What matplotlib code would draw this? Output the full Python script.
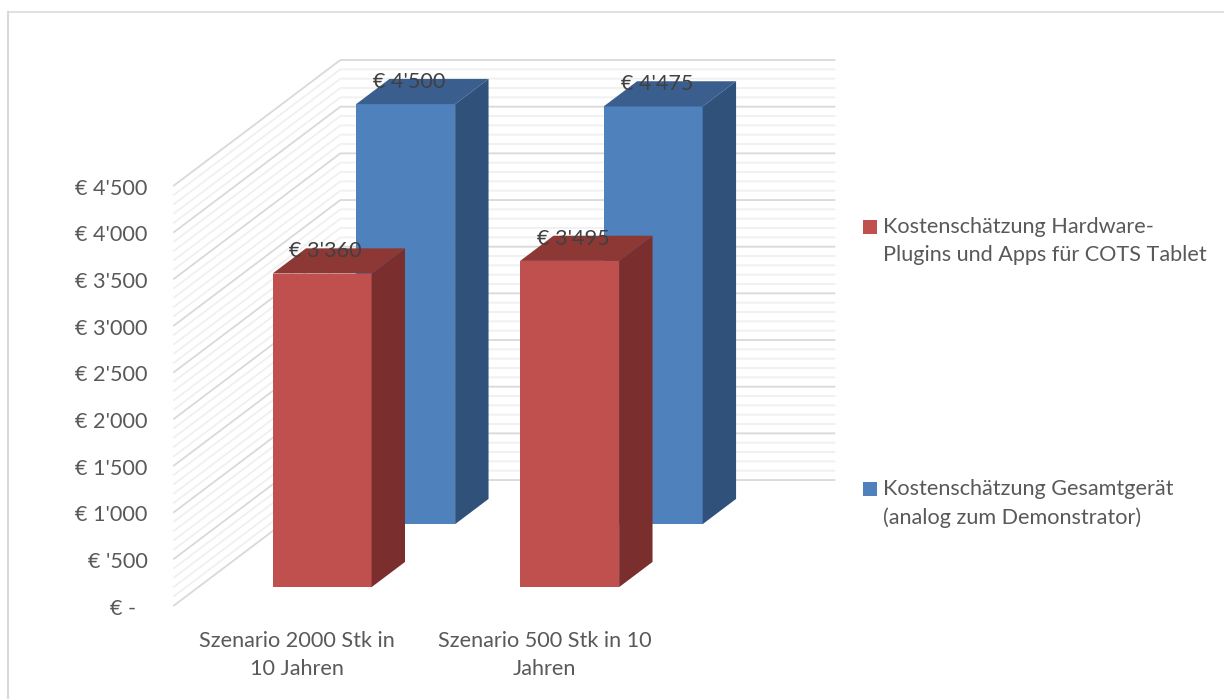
"""3D-style clustered bar chart of cost estimates, built on a flat axes."""
from matplotlib import pyplot as plt
from matplotlib.lines import Line2D
from matplotlib.patches import Polygon, Rectangle

plt.rcParams['font.family'] = ['Lato', 'DejaVu Sans']

categories = ['Szenario 2000 Stk in\n10 Jahren', 'Szenario 500 Stk in 10\nJahren']
hardware_costs = [3360, 3495]
device_costs = [4500, 4475]
hardware_label = 'Kostenschätzung Hardware-\nPlugins und Apps für COTS Tablet'
device_label = 'Kostenschätzung Gesamtgerät\n(analog zum Demonstrator)'
value_labels = {3360: "€ 3'360", 3495: "€ 3'495", 4500: "€ 4'500", 4475: "€ 4'475"}
axis_ticks = [0, 500, 1000, 1500, 2000, 2500, 3000, 3500, 4000, 4500]
axis_labels = ['€ -', "€ '500", "€ 1'000", "€ 1'500", "€ 2'000", "€ 2'500",
               "€ 3'000", "€ 3'500", "€ 4'000", "€ 4'500"]
minor_ticks = [v for v in range(0, 4600, 100) if v % 500]

# oblique projection: depth 1 is the back wall
DEPTH_X = 0.675
DEPTH_Y = 1350
BAR_WIDTH = 0.4
X_MIN, X_MAX = -0.5, 1.5
TEXT = '#595959'
LABEL = '#404040'
FONT_SIZE = 15.6
TEXT_DROP = 30  # text sits a little under its nominal height


def project(x, y, depth):
    return x + depth * DEPTH_X, y + depth * DEPTH_Y


def wall_line(ax, value, color, lw):
    pts = [project(X_MIN, value, 0), project(X_MIN, value, 1), project(X_MAX, value, 1)]
    ax.plot(*zip(*pts), color=color, lw=lw, zorder=1, solid_capstyle='butt')


def draw_bar(ax, x, value, depth, bar_depth, front, top, side):
    """Front face as a real bar, top and side as projected polygons."""
    x0, base = project(x, 0, depth)
    ax.bar(x0, value, BAR_WIDTH, bottom=base, color=front, zorder=3)
    left, right = x - BAR_WIDTH / 2, x + BAR_WIDTH / 2
    d0, d1 = depth, depth + bar_depth
    ax.add_patch(Polygon([project(left, value, d0), project(right, value, d0),
                          project(right, value, d1), project(left, value, d1)],
                         closed=True, color=top, lw=0, zorder=3))
    ax.add_patch(Polygon([project(right, 0, d0), project(right, value, d0),
                          project(right, value, d1), project(right, 0, d1)],
                         closed=True, color=side, lw=0, zorder=3))
    lx, ly = project(x, value, d1)
    ax.text(lx - bar_depth * DEPTH_X + 0.015, ly - TEXT_DROP, value_labels[value],
            ha='center', va='center', fontsize=FONT_SIZE, color=LABEL, zorder=5)


fig = plt.figure(figsize=(12.24, 6.99), dpi=100)
ax = fig.add_axes([0, 0, 1, 1])
ax.set_xlim(-1.2, 3.745)
ax.set_ylim(-996, 6493)
ax.axis('off')

# frame along the top and left, running off the page
fig.add_artist(Line2D([7.5 / 1224, 1], [1 - 12 / 699, 1 - 12 / 699], color='#d9d9d9', lw=1.1,
                      transform=fig.transFigure))
fig.add_artist(Line2D([7.5 / 1224, 7.5 / 1224], [0, 1 - 11.5 / 699], color='#d9d9d9', lw=1.5,
                      transform=fig.transFigure))

for v in minor_ticks:
    wall_line(ax, v, '#f0f0f0', 1.3)
for v in axis_ticks:
    wall_line(ax, v, '#d9d9d9', 1.3)

for i in range(len(categories)):
    draw_bar(ax, i, device_costs[i], 0.65, 0.2, '#4f81bd', '#3a5f8e', '#30527a')
for i in range(len(categories)):
    draw_bar(ax, i, hardware_costs[i], 0.15, 0.2, '#c0504d', '#8e3836', '#7a2f2e')

for v, lab in zip(axis_ticks, axis_labels):
    x_right = -0.65 if v == 0 else -0.603
    ax.text(x_right, v - TEXT_DROP, lab, ha='right', va='center', fontsize=FONT_SIZE, color=TEXT)

for i, cat in enumerate(categories):
    ax.text(i, -525, cat, ha='center', va='center', fontsize=FONT_SIZE, color=TEXT, linespacing=1.5)

# legend sits outside the plot box, so it is placed in figure pixels
for y_px, color, lab, text_y in [(227, '#c0504d', hardware_label, 241),
                                 (489, '#4f81bd', device_label, 503.5)]:
    fig.add_artist(Rectangle((863 / 1224, 1 - (y_px + 7) / 699), 14 / 1224, 14 / 699,
                             color=color, lw=0, transform=fig.transFigure))
    fig.text(883 / 1224, 1 - text_y / 699, lab, ha='left', va='center', fontsize=FONT_SIZE,
             color=TEXT, linespacing=1.55)

fig.savefig('out.png', dpi=100)
